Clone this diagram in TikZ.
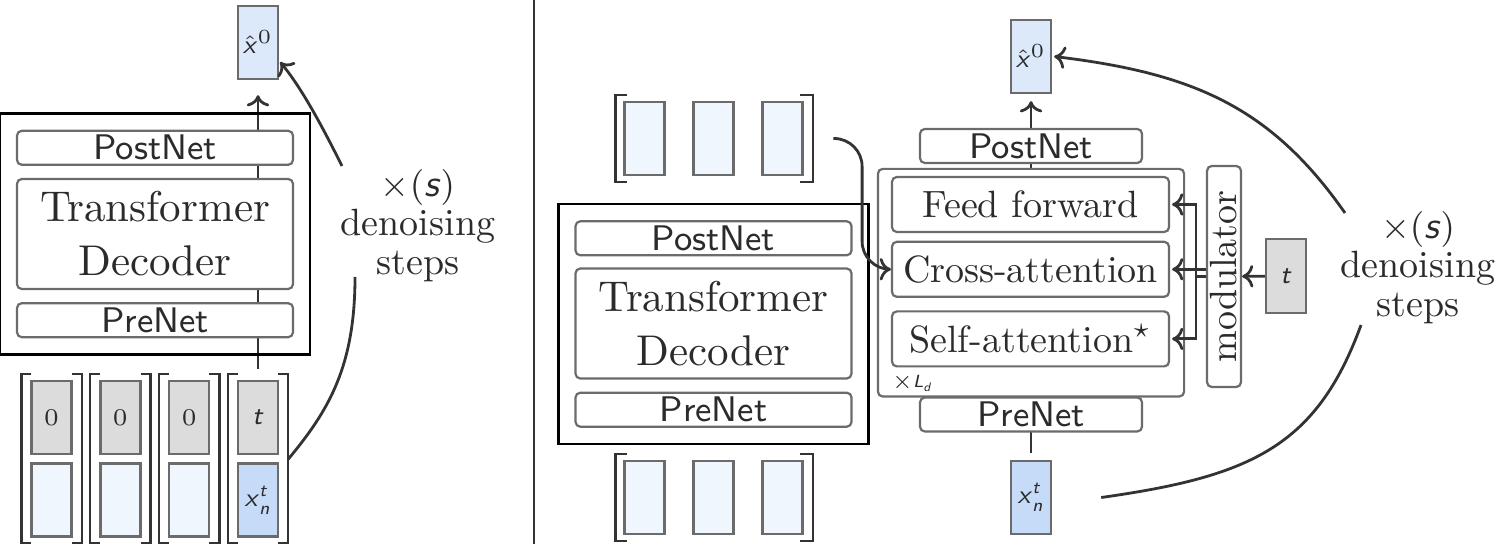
\documentclass[tikz,border=0pt]{standalone}
\usepackage{amsmath}
\usepackage{graphicx}
\usetikzlibrary{positioning,fit,calc,backgrounds,arrows.meta}
\definecolor{boxgray}{HTML}{6B6B6B}
\definecolor{txtgray}{HTML}{2B2B2B}
\definecolor{arrowgray}{HTML}{333333}
\definecolor{cellblue}{HTML}{F0F6FE}
\definecolor{hatblue}{HTML}{DBE9FB}
\definecolor{inblue}{HTML}{C6DBF8}
\definecolor{cellgray}{HTML}{DCDCDC}
\newcommand{\svar}[1]{\textsf{\textit{#1}}}

\begin{document}
\begin{tikzpicture}[
  x=0.25pt, y=-0.25pt,
  box/.style={rectangle, draw=boxgray, line width=0.55pt, rounded corners=1.2pt, fill=white, text=txtgray, inner sep=0pt},
  netbox/.style={box, minimum width=69pt, minimum height=8.5pt, font=\sffamily\fontsize{8.9}{10}\selectfont},
  bigbox/.style={box, minimum width=69pt, minimum height=27.5pt, align=center, font=\fontsize{10.75}{13.5}\selectfont},
  layer/.style={box, minimum width=69.25pt, minimum height=13.75pt, font=\fontsize{9.5}{11}\selectfont},
  cell/.style={rectangle, draw=boxgray, line width=0.6pt, minimum width=10pt, minimum height=18.25pt, inner sep=0pt, text=txtgray, font=\fontsize{6.5}{7.5}\selectfont},
  outer/.style={rectangle, draw=black, line width=0.65pt, inner sep=4pt},
  brk/.style={draw=arrowgray, line width=0.6pt},
  link/.style={draw=arrowgray, line width=0.7pt},
  arr/.style={link, -{To[length=2.8pt,width=5.6pt]}},
  loopnote/.style={align=center, text=txtgray, inner sep=0pt, font=\fontsize{9.5}{9.75}\selectfont}
]
\useasboundingbox (0,0) rectangle (1496,544);

% Left: decoder on the whole sequence
\node[bigbox] (transL) at (155,234) {Transformer\\Decoder};
\node[netbox, above=3pt of transL] (postL) {PostNet};
\node[netbox, below=3pt of transL] (preL) {PreNet};
\node[outer, fit=(postL)(preL)] (decL) {};
\node[cell, fill=hatblue] (hatL) at (258,42.5) {$\hat{\svar{x}}^{0}$};

\foreach \i in {1,2,3} {
  \node[cell, fill=cellgray] (tc\i) at ({51.5+68.83*(\i-1)},417.5) {$0$};
  \node[cell, fill=cellblue, below=1.75pt of tc\i] (xc\i) {};
}
\node[cell, fill=cellgray] (tc4) at (258,417.5) {$\svar{t}$};
\node[cell, fill=inblue, below=1.75pt of tc4] (xc4) {$\svar{x}_{\svar{n}}^{\svar{t}}$};

% Brackets
\foreach \i in {1,...,4} {
  \draw[brk] ([shift={(0.25pt,1.5pt)}]tc\i.north west) -- ([shift={(-2.25pt,1.5pt)}]tc\i.north west)
    -- ([shift={(-2.25pt,-1.5pt)}]xc\i.south west) -- ([shift={(0.25pt,-1.5pt)}]xc\i.south west);
  \draw[brk] ([shift={(-0.25pt,1.5pt)}]tc\i.north east) -- ([shift={(2.25pt,1.5pt)}]tc\i.north east)
    -- ([shift={(2.25pt,-1.5pt)}]xc\i.south east) -- ([shift={(-0.25pt,-1.5pt)}]xc\i.south east);
}

\begin{scope}[on background layer]
  \draw[arr] ([yshift=2.75pt]tc4.north) -- ([yshift=-3.75pt]hatL.south);
\end{scope}

% Denoising loop
\node[loopnote] (noteL) at (418,225.5) {$\times(\svar{s})$\\denoising\\steps};
\coordinate (loopLa) at ([shift={(2.25pt,-1pt)}]tc4.south east);
\coordinate (loopLb) at (355,277);
\coordinate (loopLc) at (342,166);
\draw[link] (loopLa) .. controls +(40,-48) and +(0,90) .. (loopLb);
\draw[arr] (loopLc) .. controls +(-18,-36) and +(22.4,27) .. ([shift={(0.25pt,-4.9pt)}]hatL.east);

\draw[link, line width=0.55pt] (534,0) -- (534,544);

% Middle: decoder with memory
\node[bigbox] (transM) at (713.5,323.5) {Transformer\\Decoder};
\node[netbox, above=2.75pt of transM] (postM) {PostNet};
\node[netbox, below=3pt of transM] (preM) {PreNet};
\node[outer, fit=(postM)(preM)] (decM) {};

\foreach \i in {1,2,3} {
  \node[cell, fill=cellblue] (mt\i) at ({644.5+69*(\i-1)},138.5) {};
  \node[cell, fill=cellblue] (mb\i) at ({644.5+69*(\i-1)},497.5) {};
}
\foreach \r in {mt,mb} {
  \draw[brk] ([shift={(1pt,1.5pt)}]\r1.north west) -- ([shift={(-2pt,1.5pt)}]\r1.north west)
    -- ([shift={(-2pt,-1.5pt)}]\r1.south west) -- ([shift={(1pt,-1.5pt)}]\r1.south west);
  \draw[brk] ([shift={(-1pt,1.5pt)}]\r3.north east) -- ([shift={(2.25pt,1.5pt)}]\r3.north east)
    -- ([shift={(2.25pt,-1.5pt)}]\r3.south east) -- ([shift={(-1pt,-1.5pt)}]\r3.south east);
}

% Right: one decoder layer
\node[cell, fill=hatblue] (hatR) at (1031,56.5) {$\hat{\svar{x}}^{0}$};
\node[netbox, minimum width=55.5pt] (postR) at (1031,146) {PostNet};
\node[layer] (ffR) at (1030.5,204.5) {Feed forward};
\node[layer, below=1.9pt of ffR] (crossR) {Cross-attention};
\node[layer, below=3.1pt of crossR] (saR) {Self-attention$^{\star}$};
\node[anchor=south west, inner sep=0pt, text=txtgray, font=\fontsize{4.4}{5}\selectfont] (ldlab)
  at ([yshift=-6.25pt]saR.south west) {${\times}\svar{L}_{\svar{d}}$};
\node[netbox, minimum width=55.5pt] (preR) at (1031,414.5) {PreNet};
\node[cell, fill=inblue] (xnR) at (1031,497.5) {$\svar{x}_{\svar{n}}^{\svar{t}}$};
\node[box, minimum width=8.5pt, minimum height=55.25pt, font=\fontsize{9.5}{11}\selectfont] (mod)
  at (1224,276.5) {\rotatebox{90}{modulator}};
\node[cell, fill=cellgray, minimum height=18.5pt] (tR) at (1286,276) {$\svar{t}$};

\begin{scope}[on background layer]
  \draw[arr] ([yshift=1.75pt]xnR.north) -- ([yshift=-1.75pt]hatR.south);
  \node[box, fit={([shift={(-3.25pt,1.75pt)}]ffR.north west) ([shift={(3.5pt,-7.25pt)}]saR.south east)}] (ldbox) {};
\end{scope}

% Arrows
\coordinate (memout) at ([xshift=7.4pt]mt3.east);
\draw[arr, rounded corners=7pt] (memout) -| ($(memout)!0.5!(crossR.west)$) |- (crossR.west);
\draw[arr] (tR) -- (mod);
\coordinate (bus) at ([xshift=-2.5pt]mod.west);
\draw[arr] (mod.west) -- (bus) |- ([xshift=0.5pt]ffR.east);
\draw[arr] (bus) |- ([xshift=0.5pt]saR.east);
\draw[arr] (mod.west |- crossR.east) -- ([xshift=0.5pt]crossR.east);

% Denoising loop
\node[loopnote] (noteR) at (1418,267.5) {$\times(\svar{s})$\\denoising\\steps};
\coordinate (loopRa) at ([xshift=12.25pt]xnR.east);
\coordinate (loopRb) at (1361,325);
\coordinate (loopRc) at (1345,213);
\draw[link] (loopRa) .. controls +(149,-21) and +(-44.5,122) .. (loopRb);
\draw[arr] (loopRc) .. controls +(-74.6,-106.5) and +(138.6,16.8) .. ([xshift=0.5pt]hatR.east);

\end{tikzpicture}
\end{document}
